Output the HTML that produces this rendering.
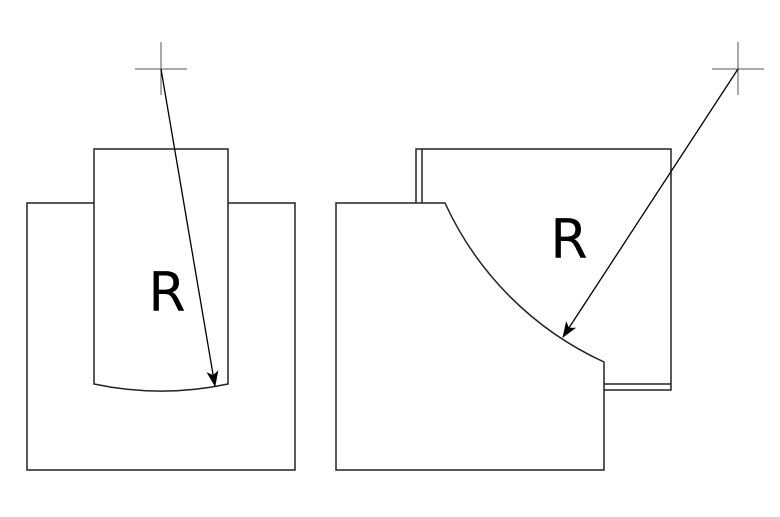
<!DOCTYPE html>
<html><head><style>body{margin:0;background:#fff}</style></head><body>
<svg width="780" height="512" viewBox="0 0 780 512" xmlns="http://www.w3.org/2000/svg">
<defs><marker id="a" markerWidth="16" markerHeight="12" refX="15" refY="6" orient="auto" markerUnits="userSpaceOnUse"><path d="M0,0 L16,6 L0,12 L4,6 Z" fill="#000"/></marker></defs>
<g fill="none" stroke="#222" stroke-width="1.5">
<path d="M94,203 H27 V470 H295 V203 H228"/>
<path d="M94,384 V149 H228 V384 A322,322 0 0 1 94,384 Z"/>
<path d="M416,203 V149 H671 V390 H604"/>
<path d="M422,203 V149"/>
<path d="M604,384 H671"/>
<path d="M336,203 H445 A322,322 0 0 0 604,362 V470 H336 Z"/>
</g>
<g stroke="#555" stroke-width="1">
<path d="M135,69 H187 M161,42 V95"/>
<path d="M712,69 H764 M738,42 V95"/>
</g>
<g stroke="#000" stroke-width="1.3">
<line x1="161" y1="69" x2="215" y2="386" marker-end="url(#a)"/>
<line x1="738" y1="69" x2="563" y2="337" marker-end="url(#a)"/>
</g>
<g font-family="DejaVu Sans, sans-serif" font-size="54" text-anchor="middle">
<text x="167" y="311">R</text>
<text x="569" y="258">R</text>
</g>
</svg>
</body></html>
